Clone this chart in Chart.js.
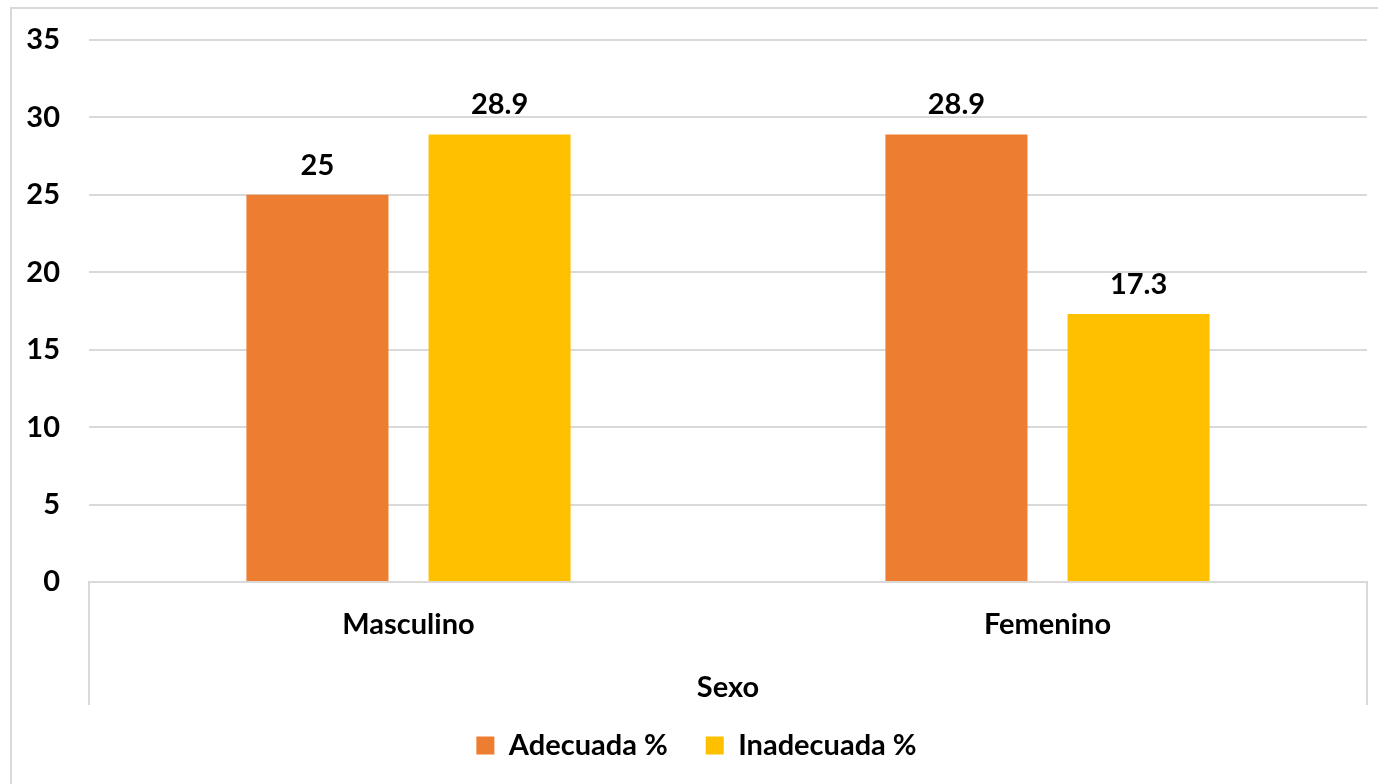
<!DOCTYPE html>
<html>
<head>
<meta charset="utf-8">
<script src="https://cdn.jsdelivr.net/npm/chart.js@4/dist/chart.umd.min.js"></script>
<style>
  body { margin: 0; background: #fff; }
  #wrap { width: 1378px; height: 784px; }
</style>
</head>
<body>
<div id="wrap"><canvas id="chart" width="1378" height="784"></canvas></div>
<script>
const categories = ['Masculino', 'Femenino'];
const adecuada = [25, 28.9];
const inadecuada = [28.9, 17.3];
const seriesNames = ['Adecuada %', 'Inadecuada %'];
const yTicks = [0, 5, 10, 15, 20, 25, 30, 35];
const axisTitle = 'Sexo';

const gridColor = '#d9d9d9';
const fontFamily = 'Lato, "Open Sans", sans-serif';
const fontSize = 29;

// draws the outer frame and the group separators under the x axis
const framePlugin = {
    id: 'frame',
    beforeDraw(chart) {
        const ctx = chart.ctx;
        ctx.save();
        ctx.strokeStyle = gridColor;
        ctx.lineWidth = 2;
        ctx.beginPath();
        ctx.moveTo(11, 784);
        ctx.lineTo(11, 8);
        ctx.lineTo(1378, 8);
        ctx.stroke();
        const area = chart.chartArea;
        ctx.beginPath();
        ctx.moveTo(area.left, area.bottom);
        ctx.lineTo(area.left, 705);
        ctx.moveTo(area.right, area.bottom);
        ctx.lineTo(area.right, 705);
        ctx.stroke();
        ctx.restore();
    }
};

// value labels above each bar
const labelPlugin = {
    id: 'barLabels',
    afterDatasetsDraw(chart) {
        const ctx = chart.ctx;
        ctx.save();
        ctx.font = 'bold ' + fontSize + 'px ' + fontFamily;
        ctx.fillStyle = '#000';
        ctx.textAlign = 'center';
        ctx.textBaseline = 'alphabetic';
        chart.data.datasets.forEach((ds, i) => {
            chart.getDatasetMeta(i).data.forEach((bar, j) => {
                ctx.fillText(String(ds.data[j]), bar.x, bar.y - 20);
            });
        });
        ctx.restore();
    }
};

const tickFont = { family: fontFamily, size: fontSize, weight: 'bold' };

new Chart(document.getElementById('chart'), {
    type: 'bar',
    data: {
        labels: categories,
        datasets: [
            { label: seriesNames[0], data: adecuada, backgroundColor: '#ED7D31' },
            { label: seriesNames[1], data: inadecuada, backgroundColor: '#FFC000' }
        ]
    },
    options: {
        responsive: false,
        animation: false,
        categoryPercentage: 0.57,
        barPercentage: 0.78,
        layout: { padding: { left: 26, right: 11, top: 40, bottom: 14 } },
        plugins: {
            tooltip: { enabled: false },
            legend: {
                position: 'bottom',
                labels: {
                    boxWidth: 18,
                    boxHeight: 18,
                    padding: 38,
                    color: '#000',
                    font: tickFont
                }
            }
        },
        scales: {
            x: {
                grid: { display: false },
                border: { display: true, color: gridColor, width: 2 },
                ticks: { color: '#000', padding: 17, font: tickFont },
                title: {
                    display: true,
                    text: axisTitle,
                    color: '#000',
                    padding: { top: 0, bottom: -12 },
                    font: tickFont
                },
                afterFit(scale) { scale.height = 111; }
            },
            y: {
                min: 0,
                max: 35,
                afterBuildTicks(scale) { scale.ticks = yTicks.map(v => ({ value: v })); },
                grid: { color: gridColor, lineWidth: 2, drawTicks: false },
                border: { display: false },
                ticks: { color: '#000', padding: 29, font: tickFont },
                afterFit(scale) {
                    scale.width = 63;
                    scale.paddingTop = 0;
                    scale.paddingBottom = 0;
                }
            }
        }
    },
    plugins: [framePlugin, labelPlugin]
});
</script>
</body>
</html>
